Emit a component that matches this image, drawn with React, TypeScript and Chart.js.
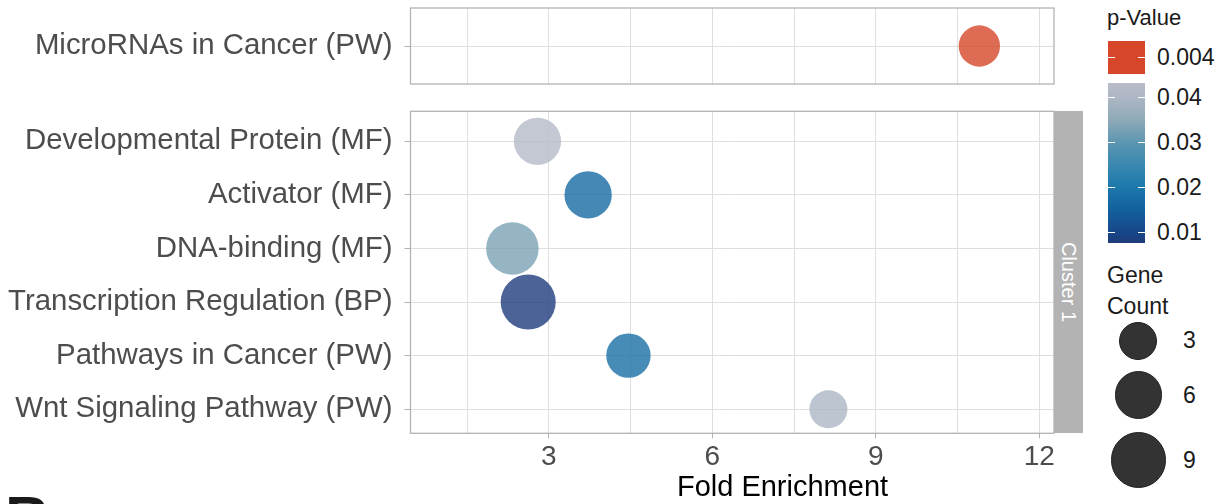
import React, { useEffect, useRef } from 'react';
import { Chart, registerables } from 'chart.js';
Chart.register(...registerables);

// ---------------- data ----------------
const topCategories = ['MicroRNAs in Cancer (PW)'];
const topFold = [10.9];
const topCount = [4];
const topPValue = [0.004];

const clusterCategories = [
  'Developmental Protein (MF)',
  'Activator (MF)',
  'DNA-binding (MF)',
  'Transcription Regulation (BP)',
  'Pathways in Cancer (PW)',
  'Wnt Signaling Pathway (PW)',
];
const clusterFold = [2.79, 3.72, 2.33, 2.62, 4.46, 8.13];
const clusterCount = [6, 6, 8, 9, 5, 3];
const clusterPValue = [0.042, 0.017, 0.033, 0.008, 0.018, 0.04];

const xGridTicks = [1.5, 3, 4.5, 6, 7.5, 9, 10.5, 12];
const xLabelTicks = [3, 6, 9, 12];
const pBreaks = [0.04, 0.03, 0.02, 0.01];
const countBreaks = [3, 6, 9];
const sigLabel = '0.004';
const stripLabel = 'Cluster 1';
const xTitle = 'Fold Enrichment';

const gradientStops: [number, string][] = [
  [0.0076, '#203a7a'],
  [0.01, '#17478a'],
  [0.015, '#12619c'],
  [0.02, '#1c78ab'],
  [0.025, '#3a88b0'],
  [0.03, '#5c96b1'],
  [0.035, '#8faab9'],
  [0.04, '#adb6c4'],
  [0.0432, '#b9bcc8'],
];
const sigColor = '#d6472a';
const sigThreshold = 0.005;

// ---------------- helpers ----------------
const FONT = "'Liberation Sans', Arial, Helvetica, sans-serif";

function hexToRgb(h: string) {
  const n = parseInt(h.slice(1), 16);
  return [(n >> 16) & 255, (n >> 8) & 255, n & 255];
}
function colorFor(p: number, alpha = 0.8) {
  let rgb: number[];
  if (p < sigThreshold) rgb = hexToRgb(sigColor);
  else {
    const s = gradientStops;
    if (p <= s[0][0]) rgb = hexToRgb(s[0][1]);
    else if (p >= s[s.length - 1][0]) rgb = hexToRgb(s[s.length - 1][1]);
    else {
      let i = 0;
      while (p > s[i + 1][0]) i++;
      const t = (p - s[i][0]) / (s[i + 1][0] - s[i][0]);
      const a = hexToRgb(s[i][1]);
      const b = hexToRgb(s[i + 1][1]);
      rgb = a.map((v, k) => Math.round(v + (b[k] - v) * t));
    }
  }
  return `rgba(${rgb[0]},${rgb[1]},${rgb[2]},${alpha})`;
}
function radiusFor(n: number) {
  return Math.sqrt(361 + 66 * (n - 3));
}

const panelBorder = {
  id: 'panelBorder',
  afterDatasetsDraw(chart: any) {
    const { ctx, chartArea: a } = chart;
    ctx.save();
    ctx.strokeStyle = '#b3b3b3';
    ctx.lineWidth = 1.3;
    ctx.strokeRect(a.left, a.top, a.right - a.left, a.bottom - a.top);
    ctx.restore();
  },
};

function makeConfig(
  categories: string[],
  fold: number[],
  count: number[],
  pv: number[],
  o: { showX: boolean; yMin: number; yMax: number; padTop: number; padBottom: number; xHeight: number }
): any {
  return {
    type: 'bubble',
    data: {
      datasets: [
        {
          data: categories.map((_, i) => ({ x: fold[i], y: i, r: radiusFor(count[i]) })),
          backgroundColor: pv.map((p) => colorFor(p)),
          borderWidth: 0,
          hoverBorderWidth: 0,
        },
      ],
    },
    options: {
      responsive: false,
      animation: false,
      events: [],
      layout: { autoPadding: false, padding: { left: 0, right: 6, top: o.padTop, bottom: o.padBottom } },
      plugins: { legend: { display: false }, tooltip: { enabled: false } },
      scales: {
        x: {
          type: 'linear',
          min: 0.46,
          max: 12.27,
          afterBuildTicks: (s: any) => {
            s.ticks = xGridTicks.map((v) => ({ value: v }));
          },
          ticks: {
            display: o.showX,
            autoSkip: false,
            maxRotation: 0,
            padding: 2,
            color: '#4d4d4d',
            font: { family: FONT, size: 28 },
            callback: (v: number) => (xLabelTicks.includes(v) ? String(v) : ''),
          },
          grid: {
            color: '#dedede',
            lineWidth: 1,
            drawTicks: o.showX,
            tickLength: o.showX ? 5 : 0,
            tickColor: (c: any) => (c.tick && xLabelTicks.includes(c.tick.value) ? '#b3b3b3' : 'rgba(0,0,0,0)'),
          },
          border: { display: false },
          afterFit: (s: any) => {
            s.height = o.xHeight;
            s.paddingLeft = 0;
            s.paddingRight = 0;
          },
        },
        y: {
          type: 'linear',
          reverse: true,
          min: o.yMin,
          max: o.yMax,
          afterBuildTicks: (s: any) => {
            s.ticks = categories.map((_, i) => ({ value: i }));
          },
          ticks: {
            autoSkip: false,
            padding: 12,
            color: '#4d4d4d',
            font: { family: FONT, size: 29.4 },
            callback: (v: number) => categories[v] ?? '',
          },
          grid: {
            color: '#dedede',
            lineWidth: 1,
            drawTicks: true,
            tickLength: 6,
            tickColor: '#b3b3b3',
          },
          border: { display: false },
          afterFit: (s: any) => {
            s.width = 410.5;
            s.paddingTop = 0;
            s.paddingBottom = 0;
          },
        },
      },
    },
    plugins: [panelBorder],
  };
}

function Txt(props: {
  x: number;
  base: number;
  size: number;
  color?: string;
  anchor?: 'start' | 'middle' | 'end';
  weight?: string;
  children: React.ReactNode;
}) {
  const { x, base, size, color = '#1a1a1a', anchor = 'start', weight = 'normal', children } = props;
  const top = base - 0.8465 * size;
  const tx = anchor === 'middle' ? 'translateX(-50%)' : anchor === 'end' ? 'translateX(-100%)' : 'none';
  return (
    <div
      style={{
        position: 'absolute',
        left: x,
        top,
        fontSize: size,
        lineHeight: `${size}px`,
        whiteSpace: 'nowrap',
        color,
        fontWeight: weight as any,
        transform: tx,
        fontFamily: FONT,
      }}
    >
      {children}
    </div>
  );
}

// colour bar geometry
const barLeft = 1108;
const barRight = 1145;
const barTopP = 0.0432;
const barBottomP = 0.0076;
const yOfP = (p: number) => 97.7 + ((0.04 - p) / 0.01) * 45;

export default function App() {
  const topRef = useRef<HTMLCanvasElement>(null);
  const botRef = useRef<HTMLCanvasElement>(null);

  useEffect(() => {
    const c1 = new Chart(
      topRef.current as HTMLCanvasElement,
      makeConfig(topCategories, topFold, topCount, topPValue, {
        showX: false,
        yMin: -0.6,
        yMax: 0.6,
        padTop: 8,
        padBottom: 11,
        xHeight: 0,
      })
    );
    const c2 = new Chart(
      botRef.current as HTMLCanvasElement,
      makeConfig(clusterCategories, clusterFold, clusterCount, clusterPValue, {
        showX: true,
        yMin: -0.56,
        yMax: 5.45,
        padTop: 11.3,
        padBottom: 0,
        xHeight: 70.7,
      })
    );
    return () => {
      c1.destroy();
      c2.destroy();
    };
  }, []);

  const barTop = yOfP(barTopP);
  const barBottom = yOfP(barBottomP);
  const gradCss =
    'linear-gradient(to bottom, ' +
    [...gradientStops]
      .reverse()
      .map(([p, c]) => `${c} ${(((yOfP(p) - barTop) / (barBottom - barTop)) * 100).toFixed(2)}%`)
      .join(', ') +
    ')';

  const circleCenters = [340.7, 395, 460];

  return (
    <div
      style={{
        position: 'fixed',
        left: 0,
        top: 0,
        width: 1220,
        height: 504,
        background: '#ffffff',
        overflow: 'hidden',
        fontFamily: FONT,
      }}
    >
      <canvas ref={topRef} width={1060} height={95} style={{ position: 'absolute', left: 0, top: 0 }} />
      <canvas ref={botRef} width={1060} height={404} style={{ position: 'absolute', left: 0, top: 100 }} />

      {/* facet strip */}
      <div
        style={{
          position: 'absolute',
          left: 1054,
          top: 111.3,
          width: 29,
          height: 322,
          background: '#b3b3b3',
        }}
      />
      <div
        style={{
          position: 'absolute',
          left: 1068.5,
          top: 282,
          transform: 'translate(-50%, -50%) rotate(90deg)',
          color: '#ffffff',
          fontSize: 20,
          lineHeight: '20px',
          whiteSpace: 'nowrap',
          fontFamily: FONT,
        }}
      >
        {stripLabel}
      </div>

      {/* x title */}
      <Txt x={782.5} base={497} size={29} anchor="middle" color="#000000">
        {xTitle}
      </Txt>

      {/* p-value legend */}
      <Txt x={1107} base={26} size={22}>
        p-Value
      </Txt>
      <div style={{ position: 'absolute', left: barLeft, top: 41, width: barRight - barLeft, height: 33, background: sigColor }} />
      <div style={{ position: 'absolute', left: barLeft, top: 57, width: 7, height: 1, background: '#fff' }} />
      <div style={{ position: 'absolute', left: barRight - 7, top: 57, width: 7, height: 1, background: '#fff' }} />
      <Txt x={1157} base={65.8} size={23}>
        {sigLabel}
      </Txt>
      <div
        style={{
          position: 'absolute',
          left: barLeft,
          top: barTop,
          width: barRight - barLeft,
          height: barBottom - barTop,
          background: gradCss,
        }}
      />
      {pBreaks.map((p) => (
        <React.Fragment key={p}>
          <div style={{ position: 'absolute', left: barLeft, top: yOfP(p) - 0.5, width: 7, height: 1, background: '#fff' }} />
          <div style={{ position: 'absolute', left: barRight - 7, top: yOfP(p) - 0.5, width: 7, height: 1, background: '#fff' }} />
          <Txt x={1157} base={yOfP(p) + 8.2} size={23}>
            {String(p)}
          </Txt>
        </React.Fragment>
      ))}

      {/* gene count legend */}
      <Txt x={1107} base={283} size={23}>
        Gene
      </Txt>
      <Txt x={1107} base={314} size={23}>
        Count
      </Txt>
      {countBreaks.map((n, i) => {
        const r = radiusFor(n);
        return (
          <React.Fragment key={n}>
            <div
              style={{
                position: 'absolute',
                left: 1138.3 - r,
                top: circleCenters[i] - r,
                width: 2 * r,
                height: 2 * r,
                borderRadius: '50%',
                background: '#333333',
                boxSizing: 'border-box',
                border: '1px solid #1f1f1f',
              }}
            />
            <Txt x={1183} base={circleCenters[i] + 8.2} size={23}>
              {String(n)}
            </Txt>
          </React.Fragment>
        );
      })}

      {/* panel tag */}
      <Txt x={5} base={539} size={62} weight="bold" color="#1a1a1a">
        B
      </Txt>
    </div>
  );
}
